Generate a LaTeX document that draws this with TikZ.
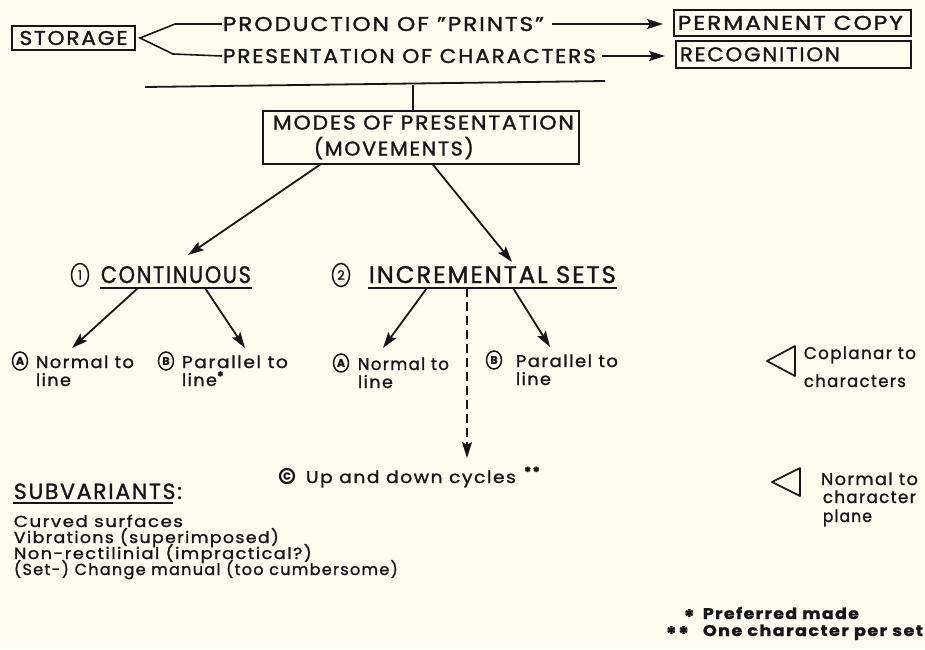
\documentclass[tikz,border=0pt]{standalone}
\usepackage{graphicx}
\usepackage{fontspec}
\setmainfont{Poppins}[LetterSpace=8,FakeBold=1.2]
\usetikzlibrary{arrows.meta,shapes.geometric}
\definecolor{paper}{RGB}{252,252,240}
\definecolor{ink}{RGB}{22,22,22}
\newcommand\fw[2]{\resizebox{#1}{\height}{#2}}
\newcommand\astr[1]{\raisebox{5pt}{\fontsize{13}{13}\selectfont\bfseries #1}}
\begin{document}
\begin{tikzpicture}[x=1pt,y=-1pt, line width=1.8pt, draw=ink, text=ink,
  box/.style={draw, line width=1.7pt, inner ysep=0pt, font=\fontsize{20}{20}\selectfont},
  capt/.style={font=\fontsize{20}{20}\selectfont, inner sep=0pt, anchor=base west},
  midt/.style={font=\fontsize{24}{24}\selectfont, inner sep=0pt, anchor=base west},
  smallt/.style={font=\fontsize{17}{17}\selectfont, inner sep=0pt, anchor=base west},
  listt/.style={font=\fontsize{16}{16}\selectfont, inner sep=0pt, anchor=base west},
  notet/.style={font=\fontsize{15.5}{15.5}\selectfont\bfseries, inner sep=0pt, anchor=base west},
  arr/.style={-{Stealth[length=16pt,width=10pt,inset=3pt]}},
  circ/.style={ellipse, draw, line width=1.5pt, inner sep=0pt, minimum width=15pt, minimum height=18pt, font=\fontsize{11}{11}\selectfont\bfseries},
  bigcirc/.style={ellipse, draw, line width=1.5pt, inner sep=0pt, minimum width=17pt, minimum height=23pt, font=\fontsize{13}{13}\selectfont},
]
\fill[paper] (0,0) rectangle (925,649);
\useasboundingbox (0,0) rectangle (925,649);

% top row
\node[box, minimum width=123pt, minimum height=24pt] (storage) at (73.5,38) {\fw{108pt}{STORAGE}};
\node[capt] (prod) at (222,31) {\fw{321pt}{PRODUCTION OF "PRINTS"}};
\node[capt] (pres) at (222,63) {\fw{373pt}{PRESENTATION OF CHARACTERS}};
\node[box, anchor=north west, text width=229pt, inner xsep=4pt, align=left, minimum height=26pt] (perm) at (673,9) {\fw{225pt}{PERMANENT COPY}};
\node[box, anchor=north west, text width=227pt, inner xsep=4pt, align=left, minimum height=27pt] (recog) at (675,40) {\fw{160pt}{RECOGNITION}};

\coordinate (fork) at (140,38);
\draw[line width=1.6pt] (prod.west) -- ++(-47,0) -- (fork) -- (173,54) -- (pres.west);
\draw[arr, shorten <=7pt, shorten >=10pt] (prod.east) -- (perm.west |- prod.east);
\draw[arr, shorten <=5pt, shorten >=10pt] (pres.east) -- (recog.west |- pres.east);

% under-line and modes box
\coordinate (hl) at (145,87);
\coordinate (hr) at (605,81);
\draw (hl) -- (hr);
\node[draw, line width=1.7pt, anchor=north west, minimum width=316pt, minimum height=53pt,
  text width=296pt, inner xsep=10pt, inner ysep=0pt, align=left,
  font=\fontsize{20}{26}\selectfont] (modes) at (262,110)
  {\fw{301pt}{MODES OF PRESENTATION}\\\hspace*{41pt}\fw{160pt}{(MOVEMENTS)}};
\coordinate (hv) at (413,85);
\draw (hv) -- (hv |- modes.north);

% level 2
\node[bigcirc] (c1) at (80,275) {1};
\node[midt] (cont) at (100,283) {\fw{150pt}{CONTINUOUS}};
\node[bigcirc] (c2) at (341,275) {2};
\node[midt] (incr) at (368,283) {\fw{247pt}{INCREMENTAL SETS}};
\draw ([shift={(0,5)}]cont.base west) -- ([shift={(0,5)}]cont.base east);
\draw ([shift={(0,5)}]incr.base west) -- ([shift={(0,5)}]incr.base east);

\coordinate (tipC) at (188,255);
\coordinate (tipI) at (512,262);
\draw[arr] ([shift={(58,0)}]modes.south west) -- (tipC);
\draw[arr] ([shift={(171,0)}]modes.south west) -- (tipI);

% level 3 labels
\node[circ] (a1) at (20,361) {A};
\node[smallt] (a1t) at (35,368) {\fw{98pt}{Normal to}};
\node[smallt] (a1l) at (35,386) {\fw{35pt}{line}};
\node[circ] (b1) at (166,361) {B};
\node[smallt] (b1t) at (181,368) {\fw{106pt}{Parallel to}};
\node[smallt] (b1l) at (181,386) {\fw{35pt}{line}\astr{*}};
\node[circ] (a2) at (341,363) {A};
\node[smallt] (a2t) at (357,370) {\fw{91pt}{Normal to}};
\node[smallt] (a2l) at (357,388) {\fw{35pt}{line}};
\node[circ] (b2) at (494,360) {B};
\node[smallt] (b2t) at (515,367) {\fw{102pt}{Parallel to}};
\node[smallt] (b2l) at (515,385) {\fw{35pt}{line}};

\coordinate (s1) at (138,288); \coordinate (e1) at (72,348);
\coordinate (s2) at (205,288); \coordinate (e2) at (245,348);
\coordinate (s3) at (427,288); \coordinate (e3) at (383,348);
\coordinate (s4) at (513,288); \coordinate (e4) at (550,347);
\coordinate (s5) at (467,288); \coordinate (e5) at (467,458);
\draw[arr] (s1) -- (e1);
\draw[arr] (s2) -- (e2);
\draw[arr] (s3) -- (e3);
\draw[arr] (s4) -- (e4);
\draw[arr, dash pattern=on 9pt off 5pt, line width=1.5pt] (s5) -- (e5);

% C
\node[circle, draw, line width=2.2pt, inner sep=0pt, minimum size=14pt, font=\fontsize{10}{10}\selectfont\bfseries] (cc) at (287,476) {C};
\node[smallt] (cyc) at (305,483) {\fw{210pt}{Up and down cycles}\hspace{8pt}\raisebox{6pt}{\fontsize{14}{14}\selectfont\bfseries **}};

% triangles
\draw[line width=1.7pt, line join=round] (767,361) -- (795,346) -- (795,376) -- cycle;
\node[smallt] (cop1) at (803,359) {\fw{112pt}{Coplanar to}};
\node[smallt] (cop2) at (803,387) {\fw{102pt}{characters}};
\draw[line width=1.7pt, line join=round] (772,482) -- (800,468) -- (800,496) -- cycle;
\node[smallt] (nor1) at (820,485) {\fw{97pt}{Normal to}};
\node[smallt] (nor2) at (822,503) {\fw{93pt}{character}};
\node[smallt] (nor3) at (822,522) {\fw{49pt}{plane}};

% subvariants
\node[midt, font=\fontsize{22}{22}\selectfont] (subv) at (13,499) {\fw{168pt}{SUBVARIANTS:}};
\coordinate (subvu) at (173,503);
\draw[line width=1.4pt] (subv.base west |- subvu) -- (subvu);
\node[listt] (sv1) at (13,527) {\fw{169pt}{Curved surfaces}};
\node[listt] (sv2) at (13,543) {\fw{265pt}{Vibrations (superimposed)}};
\node[listt] (sv3) at (13,559) {\fw{298pt}{Non-rectilinial (impractical?)}};
\node[listt] (sv4) at (13,575) {\fw{384pt}{(Set-) Change manual (too cumbersome)}};

% notes
\node[notet] (f1a) at (683,624) {\fontsize{20}{20}\selectfont *};
\node[notet] (f1) at (702,619) {\fw{156pt}{Preferred made}};
\node[notet] (f2a) at (665,641) {\fontsize{20}{20}\selectfont **};
\node[notet] (f2) at (702,636) {\fw{220pt}{One character per set}};
\end{tikzpicture}
\end{document}
